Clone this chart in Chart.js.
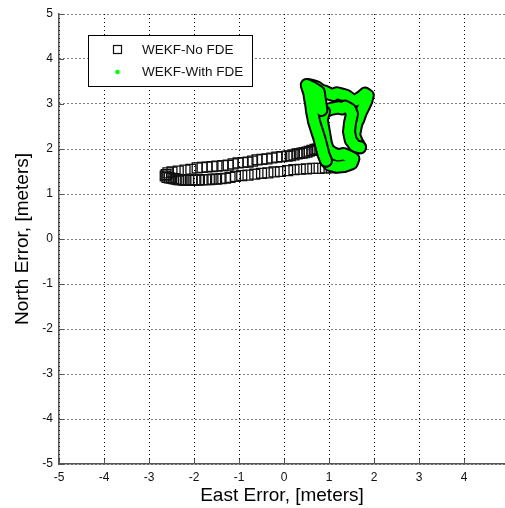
<!DOCTYPE html>
<html>
<head>
<meta charset="utf-8">
<script src="https://cdn.jsdelivr.net/npm/chart.js@4/dist/chart.umd.min.js"></script>
<style>
  html, body { margin: 0; padding: 0; background: #fff; }
  #c { display: block; }
</style>
</head>
<body>
<canvas id="c" width="505" height="508"></canvas>
<script>
// Position error of the two filter variants (East / North, metres)
const seriesNames = ['WEKF-No FDE', 'WEKF-With FDE'];

// WEKF without fault detection: out along the upper track, back along the lower one
const noFdeEast = [
  0.82, 0.74, 0.69, 0.62, 0.56, 0.51, 0.45, 0.40, 0.34, 0.29, 0.22, 0.14, 0.07,
  -0.05, -0.16, -0.27, -0.38, -0.49, -0.60, -0.70, -0.80, -0.91, -1.02, -1.13, -1.24, -1.36,
  -1.49, -1.60, -1.71, -1.82, -1.93, -2.07, -2.20, -2.35, -2.49, -2.58,
  -2.62, -2.64, -2.60,
  -2.55, -2.50, -2.45, -2.40, -2.35, -2.30, -2.24, -2.18, -2.12, -2.05, -1.98, -1.90, -1.82,
  -1.74, -1.66, -1.58, -1.50, -1.40, -1.30, -1.20, -1.08, -0.94, -0.80, -0.65, -0.50, -0.36,
  -0.22, -0.08, 0.08, 0.22, 0.36, 0.50, 0.64, 0.78, 0.92, 1.05
];
const noFdeNorth = [
  2.01, 2.00, 1.99, 1.97, 1.95, 1.93, 1.92, 1.91, 1.90, 1.89, 1.87, 1.85, 1.84,
  1.83, 1.82, 1.80, 1.78, 1.77, 1.76, 1.73, 1.71, 1.70, 1.69, 1.67, 1.64, 1.63,
  1.62, 1.61, 1.60, 1.59, 1.58, 1.55, 1.53, 1.51, 1.49, 1.47,
  1.43, 1.40, 1.37,
  1.36, 1.35, 1.34, 1.33, 1.32, 1.32, 1.31, 1.31, 1.31, 1.31, 1.31, 1.31, 1.32,
  1.32, 1.32, 1.33, 1.33, 1.34, 1.35, 1.37, 1.39, 1.41, 1.42, 1.44, 1.46, 1.47,
  1.49, 1.50, 1.52, 1.54, 1.55, 1.56, 1.57, 1.57, 1.58, 1.58
];

// WEKF with fault detection: the wandering track between x 0.5..1.9, y 1.6..3.4
const withFdeEast = [
  0.541, 0.640, 0.726, 0.820, 0.911, 1.000, 1.096, 1.170, 1.244, 1.378, 1.430, 1.481,
  1.550, 1.615, 1.726, 1.800, 1.860, 1.830, 1.778, 1.740, 1.704, 1.652, 1.610, 1.593,
  1.556, 1.615, 1.689, 1.578, 1.481, 1.444, 1.467, 1.511, 1.467, 1.356, 1.280, 1.207,
  1.037, 0.889, 0.837, 0.874, 0.904, 0.933, 0.985, 1.096, 1.207, 1.319, 1.430, 1.541,
  1.504, 1.333, 1.170, 1.022, 0.933, 0.874, 0.830, 0.785, 0.726, 0.667, 0.650, 0.630,
  0.600, 0.580, 0.563, 0.504, 0.652, 0.770, 0.800, 0.830
];
const withFdeNorth = [
  3.422, 3.400, 3.370, 3.300, 3.274, 3.230, 3.200, 3.240, 3.222, 3.185, 3.150, 3.111,
  3.060, 3.089, 3.163, 3.230, 3.190, 3.070, 2.956, 2.880, 2.807, 2.659, 2.580, 2.496,
  2.311, 2.163, 2.037, 2.067, 2.200, 2.385, 2.585, 2.778, 2.881, 2.941, 2.900, 2.926,
  2.889, 2.830, 2.644, 2.452, 2.274, 2.111, 1.978, 1.904, 1.859, 1.889, 1.844, 1.785,
  1.681, 1.622, 1.607, 1.644, 1.741, 1.889, 2.067, 2.237, 2.422, 2.607, 2.700, 2.793,
  3.015, 3.120, 3.237, 3.422, 3.348, 3.274, 3.074, 2.867
];
// The track is drawn in consecutive pieces so later passes overlap earlier ones
const fdePieceStarts = [0, 26, 37, 52, 67];

// Axis ticks
const xTicks = [-5, -4, -3, -2, -1, 0, 1, 2, 3, 4];
const yTicks = [-5, -4, -3, -2, -1, 0, 1, 2, 3, 4, 5];

const FONT = "'Liberation Sans', Arial, Helvetica, sans-serif";
const GREEN = '#00ff00';
const AXIS = '#555555';

const toPoints = (xs, ys) => xs.map((v, i) => ({ x: v, y: ys[i] }));

// MATLAB-style ticks pointing into the plot box
const innerTicks = {
  id: 'innerTicks',
  afterDatasetsDraw(chart) {
    const { ctx, chartArea: a, scales: { x, y } } = chart;
    ctx.save();
    ctx.strokeStyle = AXIS;
    ctx.lineWidth = 1;
    xTicks.forEach(v => {
      const px = Math.round(x.getPixelForValue(v)) + 0.5;
      ctx.beginPath(); ctx.moveTo(px, a.bottom); ctx.lineTo(px, a.bottom - 5); ctx.stroke();
    });
    yTicks.forEach(v => {
      const py = Math.round(y.getPixelForValue(v)) + 0.5;
      ctx.beginPath(); ctx.moveTo(a.left, py); ctx.lineTo(a.left + 5, py); ctx.stroke();
    });
    ctx.restore();
  }
};

// Boxed legend in the upper-left corner of the axes
const boxLegend = {
  id: 'boxLegend',
  afterDraw(chart) {
    const { ctx } = chart;
    ctx.save();
    ctx.fillStyle = '#fff';
    ctx.fillRect(88, 35, 164, 51);
    ctx.strokeStyle = '#000';
    ctx.lineWidth = 1;
    ctx.strokeRect(88.5, 35.5, 164, 51);
    // square marker
    ctx.strokeStyle = '#111';
    ctx.lineWidth = 1.2;
    ctx.strokeRect(113.5, 45.5, 8, 8);
    // green dot marker
    ctx.fillStyle = GREEN;
    ctx.beginPath(); ctx.arc(117.5, 72, 2.3, 0, Math.PI * 2); ctx.fill();
    ctx.fillStyle = '#111';
    ctx.font = '13.5px ' + FONT;
    ctx.textBaseline = 'middle';
    ctx.textAlign = 'left';
    ctx.fillText(seriesNames[0], 142, 50);
    ctx.fillText(seriesNames[1], 142, 72);
    ctx.restore();
  }
};

const fdePoints = toPoints(withFdeEast, withFdeNorth);

// Each piece: dark edge underneath, green stroke on top; later pieces stack above
const fdeDatasets = [];
for (let k = 0; k < fdePieceStarts.length - 1; k++) {
  const piece = fdePoints.slice(fdePieceStarts[k], fdePieceStarts[k + 1] + 1);
  const common = {
    data: piece, showLine: true, pointRadius: 0,
    borderJoinStyle: 'round', borderCapStyle: 'round'
  };
  fdeDatasets.push({ ...common, label: seriesNames[1] + ' edge ' + k,
    borderColor: '#000', borderWidth: 14, order: 40 - 2 * k });
  fdeDatasets.push({ ...common, label: seriesNames[1] + ' ' + k,
    borderColor: GREEN, borderWidth: 10, order: 39 - 2 * k });
}

new Chart(document.getElementById('c'), {
  type: 'scatter',
  data: {
    datasets: [
      {
        label: seriesNames[0],
        data: toPoints(noFdeEast, noFdeNorth),
        pointStyle: 'rect',
        pointRadius: 7,
        borderColor: '#111',
        borderWidth: 1.3,
        backgroundColor: 'rgba(0,0,0,0)',
        order: 50
      },
      ...fdeDatasets
    ]
  },
  options: {
    responsive: false,
    animation: false,
    events: [],
    layout: { autoPadding: false, padding: { left: 0, right: 0, top: 14, bottom: 0 } },
    plugins: { legend: { display: false }, tooltip: { enabled: false } },
    scales: {
      x: {
        type: 'linear',
        min: -5,
        max: 4.91,
        afterBuildTicks: s => { s.ticks = xTicks.map(v => ({ value: v })); },
        afterFit: s => { s.height = 44; s.paddingLeft = 0; s.paddingRight = 0; },
        grid: { drawTicks: false, color: '#000', lineWidth: 1 },
        border: { display: true, color: AXIS, width: 1.5, dash: [1, 3] },
        ticks: {
          color: '#111', padding: 6, maxRotation: 0, autoSkip: false,
          font: { family: FONT, size: 12 },
          callback: v => String(v)
        },
        title: {
          display: true, text: 'East Error, [meters]', color: '#000',
          font: { family: FONT, size: 19 }, padding: { top: 0, bottom: 1 }
        }
      },
      y: {
        type: 'linear',
        min: -5,
        max: 5,
        afterBuildTicks: s => { s.ticks = yTicks.map(v => ({ value: v })); },
        afterFit: s => { s.width = 59; s.paddingTop = 0; s.paddingBottom = 0; },
        grid: { drawTicks: false, color: '#000', lineWidth: 1 },
        border: { display: true, color: AXIS, width: 1.5, dash: [1, 3] },
        ticks: {
          color: '#111', padding: 6, autoSkip: false,
          font: { family: FONT, size: 12 },
          callback: v => String(v)
        },
        title: {
          display: true, text: 'North Error, [meters]', color: '#000',
          font: { family: FONT, size: 19 }, padding: { top: 11, bottom: 0 }
        }
      }
    }
  },
  plugins: [innerTicks, boxLegend]
});
</script>
</body>
</html>
